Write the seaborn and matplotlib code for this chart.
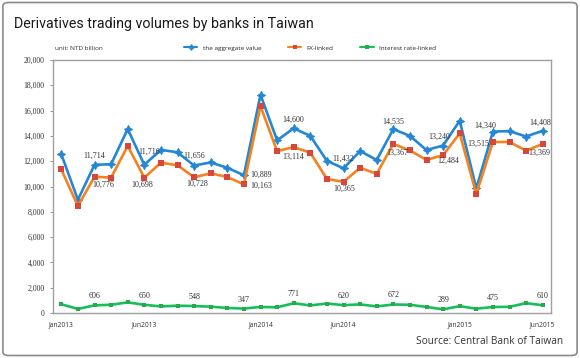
import numpy as np
import pandas as pd
import matplotlib
matplotlib.use("Agg")
import matplotlib.pyplot as plt
import seaborn as sns
from matplotlib.lines import Line2D
from matplotlib.patches import FancyBboxPatch

# === Data (NTD billion, monthly Jan2013 - Jun2015) ===
months = pd.date_range("2013-01-01", "2015-06-01", freq="MS").strftime("%b%Y").tolist()

aggregate = [12550, 8950, 11714, 11760, 14540, 11716, 12900, 12700, 11656, 11900,
             11480, 10889, 17250, 13650, 14600, 14000, 12030, 11432, 12800, 12100,
             14535, 14000, 12880, 13240, 15200, 9850, 14340, 14380, 13950, 14408]
fx_linked = [11350, 8450, 10776, 10700, 13200, 10698, 11880, 11680, 10728, 11040,
             10750, 10163, 16350, 12800, 13114, 12670, 10600, 10365, 11480, 11000,
             13367, 12850, 12100, 12484, 14200, 9400, 13515, 13520, 12830, 13369]
rate_linked = [690, 320, 606, 650, 840, 650, 520, 580, 548, 500,
               400, 347, 480, 450, 771, 600, 750, 620, 680, 520,
               672, 650, 480, 289, 540, 340, 475, 490, 780, 610]

labelled = [2, 5, 8, 11, 14, 17, 20, 23, 26, 29]
tick_months = ["Jan2013", "Jun2013", "Jan2014", "Jun2014", "Jan2015", "Jun2015"]

df = pd.DataFrame({"idx": np.arange(len(months)), "month": months,
                   "aggregate": aggregate, "fx": fx_linked, "rate": rate_linked})

# === Style ===
sns.set_style("white")
plt.rcParams["font.family"] = ["Open Sans", "DejaVu Sans"]

BLUE = "#2387d6"
ORANGE = "#f5821f"
ORANGE_MK = "#d8473a"
GREEN = "#13c05c"
GREEN_MK = "#2aa84a"
SERIF = ["Liberation Serif", "DejaVu Serif"]

fig = plt.figure(figsize=(5.8, 3.58), dpi=100)
ax = fig.add_axes([53 / 580, 1 - 313 / 358, (551 - 53) / 580, (313 - 60) / 358])

sns.lineplot(data=df, x="idx", y="aggregate", ax=ax, color=BLUE, linewidth=1.9,
             marker=(4, 1, 0), markersize=6, markeredgewidth=0.6,
             markeredgecolor=BLUE, markerfacecolor=BLUE)
sns.lineplot(data=df, x="idx", y="fx", ax=ax, color=ORANGE, linewidth=1.9,
             marker="s", markersize=4, markeredgewidth=0, markerfacecolor=ORANGE_MK)
sns.lineplot(data=df, x="idx", y="rate", ax=ax, color=GREEN, linewidth=1.9,
             marker="s", markersize=3.5, markeredgewidth=0, markerfacecolor=GREEN_MK)

# === Data labels ===
blue_off = {2: (0, 9), 5: (5, 13), 8: (0, 10), 11: (17, 0), 14: (0, 8),
            17: (0, 10), 20: (0, 7), 23: (-4, 9), 26: (-8, 6), 29: (-2, 8)}
orange_off = {2: (9, -8), 5: (-2, -7), 8: (3, -7), 11: (17, -1), 14: (0, -10),
              17: (1, -7), 20: (4, -9), 23: (5, -6), 26: (-15, -2), 29: (-3, -9)}
for i in labelled:
    for series, offs in ((aggregate, blue_off), (fx_linked, orange_off)):
        ax.annotate(f"{series[i]:,}", (i, series[i]), xytext=offs[i],
                    textcoords="offset pixels", ha="center", va="center",
                    fontsize=5.8, family=SERIF, color="#333333")
    ax.annotate(f"{rate_linked[i]:,}", (i, rate_linked[i]), xytext=(0, 9),
                textcoords="offset pixels", ha="center", va="center",
                fontsize=5.8, family=SERIF, color="#333333")

# === Axes ===
ax.set_xlim(-0.5, len(months) - 0.5)
ax.set_ylim(0, 20000)
ax.set_yticks(np.arange(0, 20001, 2000))
ax.set_yticklabels([f"{v:,}" for v in range(0, 20001, 2000)], family=SERIF,
                   fontsize=5.6, color="#333333")
ax.set_xticks([months.index(m) for m in tick_months])
ax.set_xticklabels(tick_months, fontsize=4.8, color="#333333")
ax.set_xticks(np.arange(-0.5, len(months), 1), minor=True)
ax.tick_params(axis="x", which="major", length=0, pad=6)
ax.tick_params(axis="x", which="minor", length=3, width=0.6, color="#888888",
               direction="out")
ax.tick_params(axis="y", length=2, width=0.6, color="#888888", pad=4, left=True)
ax.set_xlabel("")
ax.set_ylabel("")
for s in ax.spines.values():
    s.set_color("#a0a0a0")
    s.set_linewidth(1)

# === Title, unit, legend, source ===
fig.text(14 / 580, 1 - 24 / 358, "Derivatives trading volumes by banks in Taiwan",
         fontsize=10.3, family=["Roboto", "DejaVu Sans"], color="#1a1a1a",
         va="center", ha="left")
fig.text(55 / 580, 1 - 48 / 358, "unit: NTD billion", fontsize=4.6,
         color="#333333", va="center", ha="left")

handles = [
    Line2D([], [], color=BLUE, lw=1.5, marker=(4, 1, 0), markersize=4),
    Line2D([], [], color=ORANGE, lw=1.5, marker="s", markersize=3,
           markerfacecolor=ORANGE_MK, markeredgewidth=0),
    Line2D([], [], color=GREEN, lw=1.5, marker="s", markersize=3,
           markerfacecolor=GREEN_MK, markeredgewidth=0),
]
fig.legend(handles, ["the aggregate value", "FX-linked", "Interest rate-linked"],
           loc="center left", bbox_to_anchor=(184 / 580, 1 - 48 / 358),
           ncol=3, frameon=False, fontsize=4.6, handlelength=2.1,
           handletextpad=0.8, columnspacing=4.2, borderpad=0, borderaxespad=0)

fig.text(563 / 580, 1 - 342 / 358, "Source: Central Bank of Taiwan",
         fontsize=7.3, color="#333333", ha="right", va="center")

fig.patches.append(FancyBboxPatch((0.005, 0.007), 0.99, 0.986,
                                  boxstyle="round,pad=0,rounding_size=0.01",
                                  transform=fig.transFigure, fill=False,
                                  ec="#8a8a8a", lw=1.2))

fig.savefig("out.png", dpi=100)
